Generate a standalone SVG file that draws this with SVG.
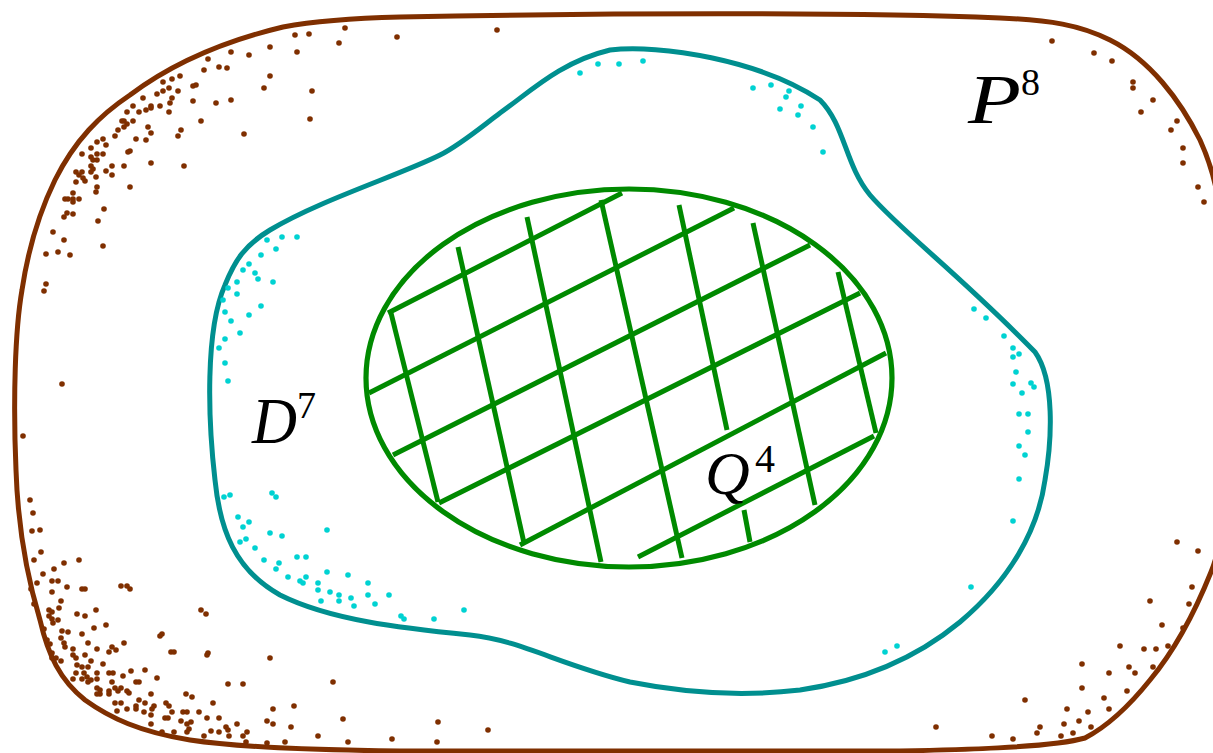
<svg xmlns="http://www.w3.org/2000/svg" width="1213" height="753" viewBox="0 0 1213 753">
<style>
.outer{fill:none;stroke:#7f2f00;stroke-width:5;stroke-linejoin:round}
.mid{fill:none;stroke:#008f8f;stroke-width:5;stroke-linejoin:round}
.inner{fill:none;stroke:#008a00;stroke-width:5.2}
.hatch{stroke:#008a00;stroke-width:5;stroke-linecap:butt}
.b circle{fill:#7f2f00}
.c circle{fill:#00d2d2}
.lbl{font-family:"Liberation Serif",serif;font-style:italic;fill:#000}
.sup{font-family:"Liberation Serif",serif;fill:#000}
</style>
<rect width="1213" height="753" fill="#fff"/>
<g id="P8">
<path class="outer" d="M 400,17 C 600,13 850,12 1000,18 C 1050,20 1080,25 1110,40 C 1150,60 1180,100 1200,140 C 1216,175 1222,210 1224,260 L 1224,500 C 1222,540 1216,560 1211,572 C 1195,612 1175,650 1150,680 C 1130,705 1110,725 1085,738 C 1050,748 950,750 900,751 L 400,751 C 300,750 230,746 190,740 C 140,732 110,718 85,700 C 60,680 48,655 40,620 C 28,580 18,530 16,470 C 13,400 15,330 22,290 C 28,250 38,215 55,180 C 75,140 100,115 130,95 C 170,65 220,42 283,27 C 320,20 360,18 400,17 Z"/>
<g class="b">
<circle cx="345" cy="28" r="2.8"/><circle cx="295" cy="35" r="2.8"/><circle cx="309" cy="34" r="2.8"/><circle cx="339" cy="43" r="2.8"/><circle cx="397" cy="37" r="2.8"/><circle cx="497" cy="30" r="2.8"/><circle cx="231" cy="52" r="2.8"/><circle cx="249" cy="55" r="2.8"/><circle cx="270" cy="47" r="2.8"/><circle cx="297" cy="52" r="2.8"/><circle cx="208" cy="59" r="2.8"/><circle cx="204" cy="70" r="2.8"/><circle cx="219" cy="67" r="2.8"/><circle cx="227" cy="68" r="2.8"/><circle cx="270" cy="76" r="2.8"/><circle cx="264" cy="88" r="2.8"/><circle cx="312" cy="91" r="2.8"/><circle cx="180" cy="76" r="2.8"/><circle cx="172" cy="79" r="2.8"/><circle cx="163" cy="82" r="2.8"/><circle cx="178" cy="91" r="2.8"/><circle cx="169" cy="88" r="2.8"/><circle cx="163" cy="91" r="2.8"/><circle cx="157" cy="94" r="2.8"/><circle cx="172" cy="98" r="2.8"/><circle cx="170" cy="103" r="2.8"/><circle cx="169" cy="112" r="2.8"/><circle cx="193" cy="86" r="2.8"/><circle cx="196" cy="85" r="2.8"/><circle cx="193" cy="101" r="2.8"/><circle cx="216" cy="103" r="2.8"/><circle cx="231" cy="100" r="2.8"/><circle cx="201" cy="121" r="2.8"/><circle cx="310" cy="119" r="2.8"/><circle cx="244" cy="134" r="2.8"/><circle cx="143" cy="98" r="2.8"/><circle cx="133" cy="106" r="2.8"/><circle cx="151" cy="106" r="2.8"/><circle cx="146" cy="110" r="2.8"/><circle cx="139" cy="112" r="2.8"/><circle cx="127" cy="112" r="2.8"/><circle cx="151" cy="108" r="2.8"/><circle cx="160" cy="106" r="2.8"/><circle cx="122" cy="121" r="2.8"/><circle cx="124" cy="121" r="2.8"/><circle cx="133" cy="121" r="2.8"/><circle cx="127" cy="124" r="2.8"/><circle cx="124" cy="127" r="2.8"/><circle cx="148" cy="127" r="2.8"/><circle cx="151" cy="133" r="2.8"/><circle cx="181" cy="130" r="2.8"/><circle cx="178" cy="136" r="2.8"/><circle cx="118" cy="130" r="2.8"/><circle cx="115" cy="136" r="2.8"/><circle cx="146" cy="140" r="2.8"/><circle cx="136" cy="139" r="2.8"/><circle cx="103" cy="139" r="2.8"/><circle cx="97" cy="142" r="2.8"/><circle cx="106" cy="145" r="2.8"/><circle cx="91" cy="148" r="2.8"/><circle cx="82" cy="154" r="2.8"/><circle cx="97" cy="154" r="2.8"/><circle cx="103" cy="154" r="2.8"/><circle cx="91" cy="157" r="2.8"/><circle cx="97" cy="160" r="2.8"/><circle cx="93" cy="160" r="2.8"/><circle cx="91" cy="166" r="2.8"/><circle cx="93" cy="169" r="2.8"/><circle cx="91" cy="172" r="2.8"/><circle cx="106" cy="171" r="2.8"/><circle cx="112" cy="166" r="2.8"/><circle cx="112" cy="175" r="2.8"/><circle cx="124" cy="166" r="2.8"/><circle cx="130" cy="151" r="2.8"/><circle cx="128" cy="152" r="2.8"/><circle cx="151" cy="163" r="2.8"/><circle cx="184" cy="166" r="2.8"/><circle cx="76" cy="172" r="2.8"/><circle cx="79" cy="175" r="2.8"/><circle cx="82" cy="172" r="2.8"/><circle cx="83" cy="178" r="2.8"/><circle cx="85" cy="181" r="2.8"/><circle cx="96" cy="177" r="2.8"/><circle cx="76" cy="182" r="2.8"/><circle cx="97" cy="187" r="2.8"/><circle cx="96" cy="192" r="2.8"/><circle cx="130" cy="187" r="2.8"/><circle cx="73" cy="193" r="2.8"/><circle cx="65" cy="199" r="2.8"/><circle cx="68" cy="199" r="2.8"/><circle cx="73" cy="199" r="2.8"/><circle cx="79" cy="199" r="2.8"/><circle cx="73" cy="202" r="2.8"/><circle cx="67" cy="213" r="2.8"/><circle cx="64" cy="217" r="2.8"/><circle cx="73" cy="214" r="2.8"/><circle cx="104" cy="209" r="2.8"/><circle cx="98" cy="221" r="2.8"/><circle cx="53" cy="232" r="2.8"/><circle cx="64" cy="240" r="2.8"/><circle cx="103" cy="246" r="2.8"/><circle cx="46" cy="254" r="2.8"/><circle cx="58" cy="252" r="2.8"/><circle cx="70" cy="255" r="2.8"/>
<circle cx="46" cy="284" r="2.8"/><circle cx="44" cy="291" r="2.8"/><circle cx="62" cy="384" r="2.8"/><circle cx="23" cy="436" r="2.8"/><circle cx="30" cy="500" r="2.8"/><circle cx="33" cy="513" r="2.8"/>
<circle cx="32" cy="531" r="2.8"/><circle cx="40" cy="530" r="2.8"/><circle cx="41" cy="552" r="2.8"/><circle cx="34" cy="560" r="2.8"/><circle cx="64" cy="563" r="2.8"/><circle cx="79" cy="560" r="2.8"/><circle cx="54" cy="569" r="2.8"/><circle cx="43" cy="574" r="2.8"/><circle cx="52" cy="581" r="2.8"/><circle cx="58" cy="581" r="2.8"/><circle cx="37" cy="583" r="2.8"/><circle cx="67" cy="587" r="2.8"/><circle cx="31" cy="589" r="2.8"/><circle cx="52" cy="592" r="2.8"/><circle cx="82" cy="589" r="2.8"/><circle cx="85" cy="589" r="2.8"/><circle cx="121" cy="586" r="2.8"/><circle cx="127" cy="586" r="2.8"/><circle cx="130" cy="589" r="2.8"/><circle cx="61" cy="601" r="2.8"/><circle cx="34" cy="604" r="2.8"/><circle cx="49" cy="610" r="2.8"/><circle cx="52" cy="612" r="2.8"/><circle cx="59" cy="608" r="2.8"/><circle cx="77" cy="614" r="2.8"/><circle cx="85" cy="616" r="2.8"/><circle cx="96" cy="610" r="2.8"/><circle cx="49" cy="616" r="2.8"/><circle cx="52" cy="619" r="2.8"/><circle cx="58" cy="620" r="2.8"/><circle cx="53" cy="623" r="2.8"/><circle cx="201" cy="610" r="2.8"/><circle cx="206" cy="614" r="2.8"/><circle cx="106" cy="625" r="2.8"/><circle cx="94" cy="628" r="2.8"/><circle cx="44" cy="629" r="2.8"/><circle cx="62" cy="631" r="2.8"/><circle cx="68" cy="632" r="2.8"/><circle cx="82" cy="634" r="2.8"/><circle cx="61" cy="638" r="2.8"/><circle cx="162" cy="634" r="2.8"/><circle cx="160" cy="636" r="2.8"/><circle cx="47" cy="640" r="2.8"/><circle cx="50" cy="644" r="2.8"/><circle cx="64" cy="643" r="2.8"/><circle cx="88" cy="643" r="2.8"/><circle cx="124" cy="643" r="2.8"/><circle cx="112" cy="647" r="2.8"/><circle cx="65" cy="647" r="2.8"/><circle cx="73" cy="649" r="2.8"/><circle cx="109" cy="652" r="2.8"/><circle cx="116" cy="650" r="2.8"/><circle cx="97" cy="649" r="2.8"/><circle cx="52" cy="653" r="2.8"/><circle cx="52" cy="658" r="2.8"/><circle cx="56" cy="658" r="2.8"/><circle cx="73" cy="655" r="2.8"/><circle cx="76" cy="658" r="2.8"/><circle cx="85" cy="655" r="2.8"/><circle cx="91" cy="661" r="2.8"/><circle cx="171" cy="652" r="2.8"/><circle cx="174" cy="652" r="2.8"/><circle cx="208" cy="653" r="2.8"/><circle cx="207" cy="655" r="2.8"/><circle cx="270" cy="658" r="2.8"/><circle cx="61" cy="661" r="2.8"/><circle cx="77" cy="665" r="2.8"/><circle cx="82" cy="667" r="2.8"/><circle cx="88" cy="667" r="2.8"/><circle cx="103" cy="664" r="2.8"/><circle cx="76" cy="673" r="2.8"/><circle cx="84" cy="673" r="2.8"/><circle cx="87" cy="677" r="2.8"/><circle cx="97" cy="673" r="2.8"/><circle cx="109" cy="673" r="2.8"/><circle cx="113" cy="673" r="2.8"/><circle cx="131" cy="671" r="2.8"/><circle cx="145" cy="670" r="2.8"/><circle cx="73" cy="679" r="2.8"/><circle cx="82" cy="679" r="2.8"/><circle cx="88" cy="682" r="2.8"/><circle cx="91" cy="680" r="2.8"/><circle cx="97" cy="679" r="2.8"/><circle cx="112" cy="682" r="2.8"/><circle cx="123" cy="676" r="2.8"/><circle cx="157" cy="678" r="2.8"/><circle cx="136" cy="682" r="2.8"/><circle cx="139" cy="682" r="2.8"/><circle cx="115" cy="688" r="2.8"/><circle cx="118" cy="691" r="2.8"/><circle cx="97" cy="688" r="2.8"/><circle cx="100" cy="690" r="2.8"/><circle cx="109" cy="691" r="2.8"/><circle cx="121" cy="688" r="2.8"/><circle cx="127" cy="691" r="2.8"/><circle cx="129" cy="693" r="2.8"/><circle cx="100" cy="694" r="2.8"/><circle cx="97" cy="694" r="2.8"/><circle cx="109" cy="694" r="2.8"/><circle cx="151" cy="694" r="2.8"/><circle cx="186" cy="694" r="2.8"/><circle cx="192" cy="697" r="2.8"/><circle cx="228" cy="684" r="2.8"/><circle cx="243" cy="684" r="2.8"/><circle cx="333" cy="682" r="2.8"/><circle cx="139" cy="700" r="2.8"/><circle cx="115" cy="703" r="2.8"/><circle cx="121" cy="703" r="2.8"/><circle cx="145" cy="703" r="2.8"/><circle cx="166" cy="703" r="2.8"/><circle cx="169" cy="706" r="2.8"/><circle cx="213" cy="703" r="2.8"/><circle cx="136" cy="706" r="2.8"/><circle cx="136" cy="709" r="2.8"/><circle cx="127" cy="709" r="2.8"/><circle cx="154" cy="706" r="2.8"/><circle cx="152" cy="709" r="2.8"/><circle cx="117" cy="711" r="2.8"/><circle cx="144" cy="712" r="2.8"/><circle cx="172" cy="712" r="2.8"/><circle cx="183" cy="712" r="2.8"/><circle cx="187" cy="712" r="2.8"/><circle cx="199" cy="712" r="2.8"/><circle cx="273" cy="709" r="2.8"/><circle cx="294" cy="706" r="2.8"/><circle cx="151" cy="715" r="2.8"/><circle cx="165" cy="718" r="2.8"/><circle cx="168" cy="718" r="2.8"/><circle cx="207" cy="718" r="2.8"/><circle cx="219" cy="718" r="2.8"/><circle cx="181" cy="721" r="2.8"/><circle cx="187" cy="724" r="2.8"/><circle cx="191" cy="722" r="2.8"/><circle cx="237" cy="724" r="2.8"/><circle cx="267" cy="721" r="2.8"/><circle cx="273" cy="724" r="2.8"/><circle cx="343" cy="719" r="2.8"/><circle cx="151" cy="724" r="2.8"/><circle cx="226" cy="727" r="2.8"/><circle cx="291" cy="727" r="2.8"/><circle cx="162" cy="732" r="2.8"/><circle cx="174" cy="732" r="2.8"/><circle cx="187" cy="732" r="2.8"/><circle cx="189" cy="729" r="2.8"/><circle cx="211" cy="731" r="2.8"/><circle cx="219" cy="732" r="2.8"/><circle cx="228" cy="730" r="2.8"/><circle cx="229" cy="736" r="2.8"/><circle cx="243" cy="736" r="2.8"/><circle cx="247" cy="732" r="2.8"/><circle cx="204" cy="736" r="2.8"/><circle cx="246" cy="742" r="2.8"/><circle cx="267" cy="743" r="2.8"/><circle cx="285" cy="742" r="2.8"/><circle cx="318" cy="736" r="2.8"/><circle cx="348" cy="742" r="2.8"/><circle cx="392" cy="739" r="2.8"/><circle cx="438" cy="722" r="2.8"/><circle cx="437" cy="742" r="2.8"/><circle cx="488" cy="730" r="2.8"/>
<circle cx="1052" cy="41" r="2.8"/><circle cx="1094" cy="53" r="2.8"/><circle cx="1112" cy="61" r="2.8"/><circle cx="1133" cy="82" r="2.8"/><circle cx="1133" cy="88" r="2.8"/><circle cx="1153" cy="100" r="2.8"/><circle cx="1141" cy="112" r="2.8"/><circle cx="1177" cy="121" r="2.8"/><circle cx="1171" cy="130" r="2.8"/><circle cx="1183" cy="148" r="2.8"/><circle cx="1183" cy="163" r="2.8"/><circle cx="1198" cy="187" r="2.8"/><circle cx="1204" cy="202" r="2.8"/>
<circle cx="1177" cy="542" r="2.8"/><circle cx="1198" cy="551" r="2.8"/><circle cx="1192" cy="587" r="2.8"/><circle cx="1189" cy="604" r="2.8"/><circle cx="1150" cy="601" r="2.8"/><circle cx="1162" cy="625" r="2.8"/><circle cx="1183" cy="628" r="2.8"/><circle cx="1120" cy="646" r="2.8"/><circle cx="1144" cy="649" r="2.8"/><circle cx="1156" cy="649" r="2.8"/><circle cx="1168" cy="646" r="2.8"/><circle cx="1082" cy="664" r="2.8"/><circle cx="1109" cy="673" r="2.8"/><circle cx="1129" cy="667" r="2.8"/><circle cx="1135" cy="673" r="2.8"/><circle cx="1153" cy="667" r="2.8"/><circle cx="1082" cy="688" r="2.8"/><circle cx="1127" cy="691" r="2.8"/><circle cx="1025" cy="700" r="2.8"/><circle cx="1104" cy="698" r="2.8"/><circle cx="1109" cy="709" r="2.8"/><circle cx="1067" cy="709" r="2.8"/><circle cx="1088" cy="712" r="2.8"/><circle cx="1079" cy="721" r="2.8"/><circle cx="1064" cy="724" r="2.8"/><circle cx="1091" cy="727" r="2.8"/><circle cx="1040" cy="727" r="2.8"/><circle cx="1037" cy="733" r="2.8"/><circle cx="936" cy="727" r="2.8"/><circle cx="992" cy="736" r="2.8"/><circle cx="1013" cy="739" r="2.8"/><circle cx="1061" cy="736" r="2.8"/><circle cx="1073" cy="733" r="2.8"/>
</g>
<text class="lbl" x="968" y="123" font-size="70" textLength="53" lengthAdjust="spacingAndGlyphs">P</text>
<text class="sup" x="1021" y="95" font-size="38">8</text>
</g>
<g id="D7">
<path class="mid" d="M 500,113 C 530,92 560,62 610,50 C 660,44 760,60 820,100 C 845,125 845,165 870,195 C 900,230 960,275 1035,352 C 1055,380 1052,440 1045,480 C 1038,530 1010,580 960,622 C 920,655 870,680 800,690 C 740,697 680,692 630,682 C 560,665 520,640 470,635 C 400,628 330,620 280,595 C 235,570 220,530 215,480 C 208,420 205,330 225,285 C 235,260 245,245 270,230 C 320,200 400,175 440,155 C 460,145 480,128 500,113 Z"/>
<g class="c">
<circle cx="580" cy="73" r="2.8"/><circle cx="598" cy="64" r="2.8"/><circle cx="619" cy="64" r="2.8"/><circle cx="643" cy="61" r="2.8"/><circle cx="753" cy="88" r="2.8"/><circle cx="771" cy="85" r="2.8"/><circle cx="789" cy="91" r="2.8"/><circle cx="786" cy="97" r="2.8"/><circle cx="780" cy="109" r="2.8"/><circle cx="801" cy="106" r="2.8"/><circle cx="798" cy="115" r="2.8"/><circle cx="813" cy="127" r="2.8"/><circle cx="823" cy="152" r="2.8"/>
<circle cx="974" cy="309" r="2.8"/><circle cx="986" cy="318" r="2.8"/><circle cx="1004" cy="336" r="2.8"/><circle cx="1013" cy="348" r="2.8"/><circle cx="1019" cy="354" r="2.8"/><circle cx="1013" cy="357" r="2.8"/><circle cx="1016" cy="372" r="2.8"/><circle cx="1013" cy="384" r="2.8"/><circle cx="1031" cy="383" r="2.8"/><circle cx="1034" cy="387" r="2.8"/><circle cx="1022" cy="393" r="2.8"/><circle cx="1019" cy="414" r="2.8"/><circle cx="1028" cy="414" r="2.8"/><circle cx="1028" cy="432" r="2.8"/><circle cx="1019" cy="446" r="2.8"/><circle cx="1025" cy="455" r="2.8"/><circle cx="1019" cy="479" r="2.8"/><circle cx="1013" cy="521" r="2.8"/><circle cx="971" cy="587" r="2.8"/><circle cx="885" cy="652" r="2.8"/><circle cx="897" cy="646" r="2.8"/>
<circle cx="297" cy="237" r="2.8"/><circle cx="282" cy="237" r="2.8"/><circle cx="267" cy="240" r="2.8"/><circle cx="276" cy="249" r="2.8"/><circle cx="261" cy="255" r="2.8"/><circle cx="249" cy="264" r="2.8"/><circle cx="243" cy="270" r="2.8"/><circle cx="255" cy="273" r="2.8"/><circle cx="258" cy="279" r="2.8"/><circle cx="273" cy="282" r="2.8"/><circle cx="237" cy="282" r="2.8"/><circle cx="228" cy="288" r="2.8"/><circle cx="237" cy="294" r="2.8"/><circle cx="223" cy="300" r="2.8"/><circle cx="261" cy="306" r="2.8"/><circle cx="225" cy="312" r="2.8"/><circle cx="249" cy="315" r="2.8"/><circle cx="231" cy="321" r="2.8"/><circle cx="240" cy="333" r="2.8"/><circle cx="225" cy="339" r="2.8"/><circle cx="219" cy="348" r="2.8"/><circle cx="225" cy="363" r="2.8"/><circle cx="228" cy="381" r="2.8"/>
<circle cx="224" cy="497" r="2.8"/><circle cx="230" cy="495" r="2.8"/><circle cx="272" cy="493" r="2.8"/><circle cx="276" cy="497" r="2.8"/><circle cx="238" cy="517" r="2.8"/>
<circle cx="243" cy="527" r="2.8"/><circle cx="249" cy="522" r="2.8"/><circle cx="240" cy="542" r="2.8"/><circle cx="246" cy="539" r="2.8"/><circle cx="255" cy="548" r="2.8"/><circle cx="270" cy="533" r="2.8"/><circle cx="282" cy="536" r="2.8"/><circle cx="327" cy="530" r="2.8"/><circle cx="264" cy="560" r="2.8"/><circle cx="279" cy="563" r="2.8"/><circle cx="276" cy="569" r="2.8"/><circle cx="297" cy="557" r="2.8"/><circle cx="306" cy="557" r="2.8"/><circle cx="288" cy="577" r="2.8"/><circle cx="300" cy="581" r="2.8"/><circle cx="303" cy="583" r="2.8"/><circle cx="306" cy="577" r="2.8"/><circle cx="318" cy="583" r="2.8"/><circle cx="318" cy="590" r="2.8"/><circle cx="327" cy="572" r="2.8"/><circle cx="330" cy="592" r="2.8"/><circle cx="321" cy="601" r="2.8"/><circle cx="339" cy="595" r="2.8"/><circle cx="339" cy="601" r="2.8"/><circle cx="348" cy="575" r="2.8"/><circle cx="351" cy="598" r="2.8"/><circle cx="354" cy="606" r="2.8"/><circle cx="368" cy="583" r="2.8"/><circle cx="368" cy="595" r="2.8"/><circle cx="375" cy="604" r="2.8"/><circle cx="389" cy="595" r="2.8"/><circle cx="401" cy="616" r="2.8"/><circle cx="404" cy="619" r="2.8"/><circle cx="434" cy="619" r="2.8"/><circle cx="464" cy="610" r="2.8"/>
</g>
<text class="lbl" x="252" y="443" font-size="65" textLength="45" lengthAdjust="spacingAndGlyphs">D</text>
<text class="sup" x="297" y="418" font-size="38">7</text>
</g>
<g id="Q4">
<ellipse class="inner" cx="629" cy="378" rx="263" ry="189"/>
<g class="hatch">
<line x1="388" y1="313" x2="622" y2="193"/>
<line x1="369" y1="393" x2="734" y2="208"/>
<line x1="393" y1="455" x2="810" y2="245"/>
<line x1="439" y1="503" x2="860" y2="293"/>
<line x1="520" y1="545" x2="886" y2="353"/>
<line x1="638" y1="557" x2="874" y2="436"/>
<line x1="391" y1="313" x2="438" y2="502"/>
<line x1="458" y1="247" x2="524" y2="543"/>
<line x1="527" y1="217" x2="601" y2="562"/>
<line x1="601" y1="200" x2="682" y2="558"/>
<line x1="679" y1="205" x2="727" y2="430"/>
<line x1="744" y1="510" x2="750" y2="542"/>
<line x1="753" y1="223" x2="815" y2="505"/>
<line x1="838" y1="272" x2="876" y2="433"/>
</g>
<text class="lbl" x="705" y="494" font-size="62">Q</text>
<text class="sup" x="755" y="472" font-size="40">4</text>
</g>
</svg>
